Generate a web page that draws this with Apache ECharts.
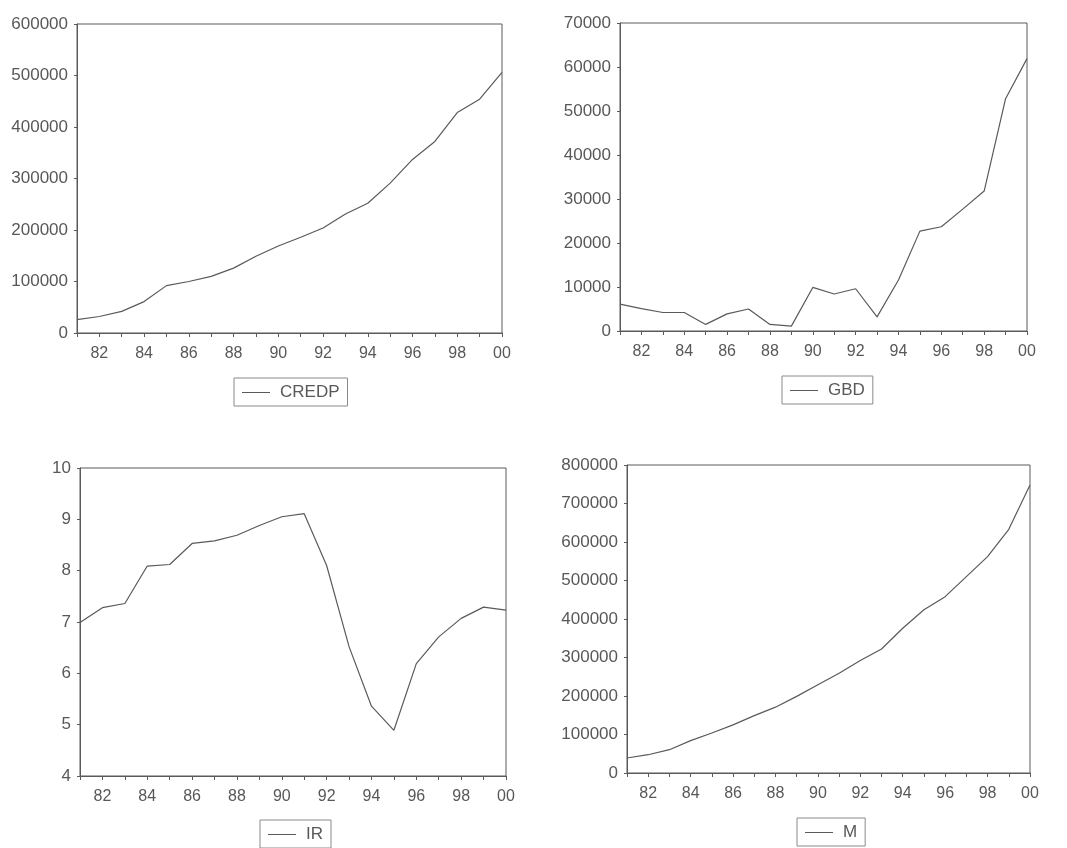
<!DOCTYPE html>
<html>
<head>
<meta charset="utf-8">
<script src="https://cdn.jsdelivr.net/npm/echarts@6/dist/echarts.min.js"></script>
<style>
  html, body { margin: 0; padding: 0; background: #fff; }
  #chart { width: 1067px; height: 848px; }
</style>
</head>
<body>
<div id="chart"></div>
<script>
// Annual observations, 1981-2000
const years = ['1981','1982','1983','1984','1985','1986','1987','1988','1989','1990',
               '1991','1992','1993','1994','1995','1996','1997','1998','1999','2000'];
const credp = [26000, 32000, 42000, 61000, 92000, 100000, 110000, 126000, 149000, 169000,
               186000, 204000, 231000, 252000, 291000, 337000, 372000, 428000, 454000, 506000];
const gbd = [6100, 5100, 4200, 4200, 1500, 3900, 5000, 1500, 1100, 9900,
             8400, 9600, 3200, 11600, 22700, 23700, 27700, 31800, 52800, 61900];
const ir = [6.99, 7.28, 7.36, 8.09, 8.12, 8.53, 8.58, 8.69, 8.88, 9.05,
            9.11, 8.10, 6.52, 5.36, 4.89, 6.19, 6.71, 7.07, 7.29, 7.23];
const m = [39000, 47500, 60500, 84000, 104000, 125000, 149000, 171000, 199000, 229000,
           259000, 292000, 322000, 376000, 424000, 458000, 510000, 562000, 633000, 748000];

const yScales = {
  CREDP: { min: 0, max: 600000, interval: 100000 },
  GBD:   { min: 0, max: 70000,  interval: 10000 },
  IR:    { min: 4, max: 10,     interval: 1 },
  M:     { min: 0, max: 800000, interval: 100000 }
};

const ink = '#5a5a5a';
const textInk = '#585858';
const font = 'Liberation Sans, Arial, sans-serif';

const panels = [
  { name: 'CREDP', data: credp, grid: { left: 77,  top: 24,  width: 425, height: 309 }, legend: { left: 234, top: 378 } },
  { name: 'GBD',   data: gbd,   grid: { left: 620, top: 23,  width: 407, height: 308 }, legend: { left: 782, top: 376 } },
  { name: 'IR',    data: ir,    grid: { left: 80,  top: 468, width: 426, height: 308 }, legend: { left: 260, top: 820 } },
  { name: 'M',     data: m,     grid: { left: 627, top: 465, width: 403, height: 308 }, legend: { left: 797, top: 818 } }
];

const option = {
  backgroundColor: '#ffffff',
  animation: false,
  grid: panels.map(p => Object.assign({
    show: true, borderColor: ink, borderWidth: 1, backgroundColor: 'transparent', containLabel: false
  }, p.grid)),
  xAxis: panels.map((p, i) => ({
    type: 'category',
    gridIndex: i,
    data: years,
    boundaryGap: false,
    axisLine: { lineStyle: { color: ink, width: 1 } },
    axisTick: { show: true, interval: 0, length: 4, lineStyle: { color: ink } },
    axisLabel: {
      interval: (idx) => idx % 2 === 1,
      formatter: (v) => v.slice(2),
      color: textInk, fontSize: 16, fontFamily: font, margin: 13
    },
    splitLine: { show: false }
  })),
  yAxis: panels.map((p, i) => Object.assign({
    type: 'value',
    gridIndex: i,
    axisLine: { show: true, lineStyle: { color: ink, width: 1 } },
    axisTick: { show: true, length: 3, lineStyle: { color: ink } },
    axisLabel: { color: textInk, fontSize: 17, fontFamily: font, margin: 9, formatter: (v) => String(v) },
    splitLine: { show: false }
  }, yScales[p.name])),
  legend: panels.map(p => ({
    data: [p.name],
    left: p.legend.left,
    top: p.legend.top,
    orient: 'horizontal',
    padding: [6, 8, 5, 8],
    borderColor: '#8a8a8a',
    borderWidth: 1,
    borderRadius: 0,
    icon: 'rect',
    itemWidth: 28,
    itemHeight: 1,
    itemStyle: { color: ink, borderWidth: 0 },
    selectedMode: false,
    textStyle: { color: textInk, fontSize: 17, fontFamily: font, padding: [0, 0, 0, 5] }
  })),
  series: panels.map((p, i) => ({
    name: p.name,
    type: 'line',
    xAxisIndex: i,
    yAxisIndex: i,
    data: p.data,
    symbol: 'none',
    smooth: false,
    lineStyle: { color: ink, width: 1.2 },
    itemStyle: { color: ink }
  }))
};

const chart = echarts.init(document.getElementById('chart'), null, { renderer: 'canvas' });
chart.setOption(option);
</script>
</body>
</html>
